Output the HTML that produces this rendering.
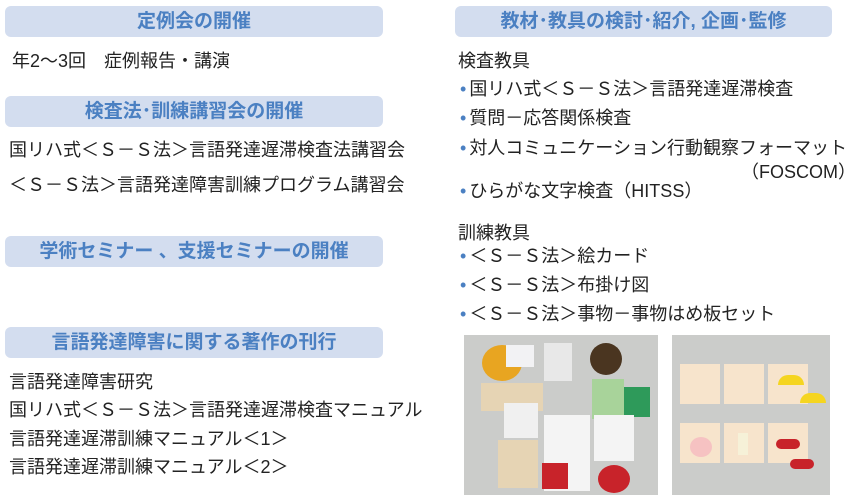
<!DOCTYPE html>
<html><head><meta charset="utf-8"><style>
body{margin:0;width:866px;height:500px;background:#fff;position:relative;overflow:hidden;font-family:"Liberation Sans","Noto Sans CJK JP",sans-serif;color:#222}
.h{position:absolute;height:31px;background:#d3ddef;border-radius:6px;color:#4b80c2;font-weight:bold;font-size:19px;line-height:31px;text-align:center}
.t{position:absolute;font-size:18px;white-space:nowrap;line-height:20px}
.b::before{content:"•";color:#4b80c2;margin-right:3px}
.ph{position:absolute;background:#cbccca}
.c{position:absolute;width:40px;height:40px;background:#f7e4cc}
</style></head><body>
<div class="h" style="left:5px;top:6px;width:378px">定例会の開催</div>
<div class="t" style="left:12px;top:51px">年2〜3回　症例報告・講演</div>
<div class="h" style="left:5px;top:96px;width:378px">検査法･訓練講習会の開催</div>
<div class="t" style="left:9px;top:140px">国リハ式＜Ｓ－Ｓ法＞言語発達遅滞検査法講習会</div>
<div class="t" style="left:9px;top:175px">＜Ｓ－Ｓ法＞言語発達障害訓練プログラム講習会</div>
<div class="h" style="left:5px;top:236px;width:378px">学術セミナー 、支援セミナーの開催</div>
<div class="h" style="left:5px;top:327px;width:378px">言語発達障害に関する著作の刊行</div>
<div class="t" style="left:9px;top:372px">言語発達障害研究</div>
<div class="t" style="left:9px;top:400px">国リハ式＜Ｓ－Ｓ法＞言語発達遅滞検査マニュアル</div>
<div class="t" style="left:9px;top:429px">言語発達遅滞訓練マニュアル＜1＞</div>
<div class="t" style="left:9px;top:457px">言語発達遅滞訓練マニュアル＜2＞</div>

<div class="h" style="left:455px;top:6px;width:377px">教材･教具の検討･紹介, 企画･監修</div>
<div class="t" style="left:458px;top:51px">検査教具</div>
<div class="t b" style="left:460px;top:79px">国リハ式＜Ｓ－Ｓ法＞言語発達遅滞検査</div>
<div class="t b" style="left:460px;top:108px">質問－応答関係検査</div>
<div class="t b" style="left:460px;top:138px">対人コミュニケーション行動観察フォーマット</div>
<div class="t" style="right:10px;top:162px">（FOSCOM）</div>
<div class="t b" style="left:460px;top:181px">ひらがな文字検査（HITSS）</div>
<div class="t" style="left:458px;top:223px">訓練教具</div>
<div class="t b" style="left:460px;top:246px">＜Ｓ－Ｓ法＞絵カード</div>
<div class="t b" style="left:460px;top:275px">＜Ｓ－Ｓ法＞布掛け図</div>
<div class="t b" style="left:460px;top:304px">＜Ｓ－Ｓ法＞事物－事物はめ板セット</div>

<div class="ph" style="left:464px;top:335px;width:194px;height:160px">
<div style="position:absolute;left:18px;top:10px;width:40px;height:36px;border-radius:50%;background:#e8a521"></div>
<div style="position:absolute;left:42px;top:10px;width:28px;height:22px;background:#f2f2f4"></div>
<div style="position:absolute;left:80px;top:8px;width:28px;height:38px;background:#e8e8e8"></div>
<div style="position:absolute;left:126px;top:8px;width:32px;height:32px;border-radius:50%;background:#4a3520"></div>
<div style="position:absolute;left:17px;top:48px;width:62px;height:28px;background:#e6d4b4"></div>
<div style="position:absolute;left:128px;top:44px;width:32px;height:40px;background:#a8d39a"></div>
<div style="position:absolute;left:160px;top:52px;width:26px;height:30px;background:#2e9a5a"></div>
<div style="position:absolute;left:40px;top:68px;width:34px;height:35px;background:#f0f0f0"></div>
<div style="position:absolute;left:80px;top:80px;width:46px;height:76px;background:#f4f4f4"></div>
<div style="position:absolute;left:130px;top:80px;width:40px;height:46px;background:#f4f4f4"></div>
<div style="position:absolute;left:34px;top:105px;width:40px;height:48px;background:#e6d4b4"></div>
<div style="position:absolute;left:78px;top:128px;width:26px;height:26px;background:#c8232a"></div>
<div style="position:absolute;left:134px;top:130px;width:32px;height:28px;border-radius:50%;background:#c8232a"></div>
</div>
<div class="ph" style="left:672px;top:335px;width:158px;height:160px">
<div class="c" style="left:8px;top:29px"></div><div class="c" style="left:52px;top:29px"></div><div class="c" style="left:96px;top:29px"></div>
<div class="c" style="left:8px;top:88px"></div><div class="c" style="left:52px;top:88px"></div><div class="c" style="left:96px;top:88px"></div>
<div style="position:absolute;left:106px;top:40px;width:26px;height:10px;border-radius:13px 13px 0 0;background:#f5d520"></div>
<div style="position:absolute;left:128px;top:58px;width:26px;height:10px;border-radius:13px 13px 0 0;background:#f5d520"></div>
<div style="position:absolute;left:18px;top:102px;width:22px;height:20px;border-radius:50%;background:#f6c2c2"></div>
<div style="position:absolute;left:66px;top:98px;width:10px;height:22px;background:#f6f1d8"></div>
<div style="position:absolute;left:104px;top:104px;width:24px;height:10px;background:#c8232a;border-radius:5px"></div>
<div style="position:absolute;left:118px;top:124px;width:24px;height:10px;background:#c8232a;border-radius:5px"></div>
</div>
</body></html>
